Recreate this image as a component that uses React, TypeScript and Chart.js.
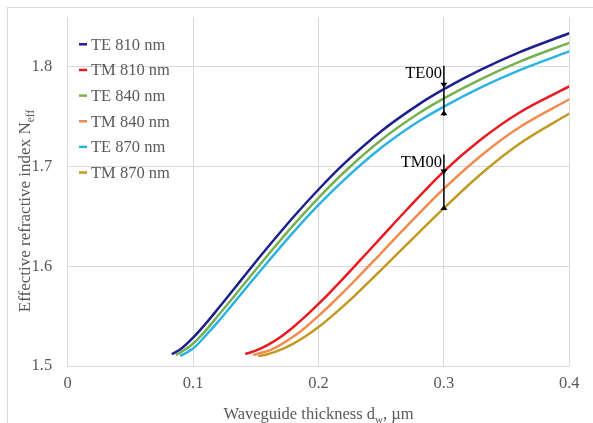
import React, { useEffect, useRef } from "react";
import { Chart, registerables } from "chart.js";

Chart.register(...registerables);

// ---- data ----
const seriesLabels = ["TE 810 nm", "TM 810 nm", "TE 840 nm", "TM 840 nm", "TE 870 nm", "TM 870 nm"];
const seriesColors = ["#1e1f8f", "#e8191f", "#77b04f", "#f28b4e", "#2bb3e6", "#c09a22"];

const te810X = [0.083, 0.09, 0.1, 0.11, 0.12, 0.13, 0.14, 0.15, 0.16, 0.18, 0.2, 0.22, 0.25, 0.28, 0.3, 0.33, 0.36, 0.4];
const te810Y = [1.512, 1.5169, 1.5284, 1.5424, 1.5576, 1.5732, 1.5889, 1.6045, 1.6198, 1.6494, 1.677, 1.7024, 1.7354, 1.7624, 1.7776, 1.7974, 1.8145, 1.8337];

const te840X = [0.0864, 0.09, 0.1, 0.11, 0.12, 0.13, 0.14, 0.15, 0.16, 0.18, 0.2, 0.22, 0.25, 0.28, 0.3, 0.33, 0.36, 0.4];
const te840Y = [1.511, 1.5135, 1.5225, 1.5355, 1.5506, 1.5657, 1.5812, 1.5966, 1.6118, 1.6412, 1.6686, 1.6938, 1.7266, 1.7534, 1.7684, 1.788, 1.805, 1.8241];

const te870X = [0.0896, 0.1, 0.11, 0.12, 0.13, 0.14, 0.15, 0.16, 0.18, 0.2, 0.22, 0.25, 0.28, 0.3, 0.33, 0.36, 0.4];
const te870Y = [1.51, 1.5175, 1.5305, 1.5445, 1.5595, 1.5748, 1.59, 1.605, 1.6342, 1.6615, 1.6862, 1.7188, 1.7454, 1.7602, 1.7797, 1.7965, 1.8155];

const tm810X = [0.1416, 0.15, 0.16, 0.17, 0.18, 0.19, 0.2, 0.21, 0.22, 0.23, 0.25, 0.27, 0.3, 0.33, 0.36, 0.4];
const tm810Y = [1.512, 1.5154, 1.5214, 1.5294, 1.5392, 1.5502, 1.5622, 1.5749, 1.5881, 1.6016, 1.629, 1.6562, 1.6952, 1.7276, 1.754, 1.7804];

const tm840X = [0.148, 0.155, 0.16, 0.17, 0.18, 0.19, 0.2, 0.21, 0.22, 0.23, 0.25, 0.27, 0.3, 0.33, 0.36, 0.4];
const tm840Y = [1.511, 1.5135, 1.5152, 1.5215, 1.5295, 1.5392, 1.5502, 1.5619, 1.5743, 1.587, 1.6133, 1.6397, 1.6778, 1.7114, 1.7392, 1.7675];

const tm870X = [0.152, 0.16, 0.17, 0.18, 0.19, 0.2, 0.21, 0.22, 0.23, 0.25, 0.27, 0.3, 0.33, 0.36, 0.4];
const tm870Y = [1.51, 1.512, 1.5164, 1.5225, 1.5301, 1.539, 1.5493, 1.5603, 1.5719, 1.5964, 1.6214, 1.6583, 1.6931, 1.7227, 1.7532];

const seriesX = [te810X, tm810X, te840X, tm840X, te870X, tm870X];
const seriesY = [te810Y, tm810Y, te840Y, tm840Y, te870Y, tm870Y];

const xTickValues = [0, 0.1, 0.2, 0.3, 0.4];
const xTickLabels = ["0", "0.1", "0.2", "0.3", "0.4"];
const yTickValues = [1.5, 1.6, 1.7, 1.8];
const yTickLabels = ["1.5", "1.6", "1.7", "1.8"];

// mode-split annotations (TE00 / TM00) at d = 0.3
const annLabels = ["TE00", "TM00"];
const annX = [0.3, 0.3];
const annTop = [1.801, 1.712];
const annDownTip = [1.779, 1.692];
const annUpTip = [1.7565, 1.6615];
const annBottom = [1.751, 1.6565];

const FONT = "'Liberation Serif', 'Times New Roman', serif";
const GRAY = "#595959";

const overlayPlugin = {
  id: "overlay",
  afterDatasetsDraw(chart: any) {
    const ctx = chart.ctx;
    const xs = chart.scales.x;
    const ys = chart.scales.y;
    const area = chart.chartArea;
    ctx.save();

    // legend
    ctx.font = `16.5px ${FONT}`;
    ctx.textBaseline = "middle";
    ctx.textAlign = "left";
    seriesLabels.forEach((lab, i) => {
      const cy = 44.3 + i * 25.65;
      ctx.strokeStyle = seriesColors[i];
      ctx.lineWidth = 2.5;
      ctx.beginPath();
      ctx.moveTo(79, cy);
      ctx.lineTo(87, cy);
      ctx.stroke();
      ctx.fillStyle = GRAY;
      ctx.fillText(lab, 91, cy + 1);
    });

    // annotations
    annLabels.forEach((lab, i) => {
      const px = xs.getPixelForValue(annX[i]);
      const yTop = ys.getPixelForValue(annTop[i]);
      const yBot = ys.getPixelForValue(annBottom[i]);
      const yDown = ys.getPixelForValue(annDownTip[i]);
      const yUp = ys.getPixelForValue(annUpTip[i]);
      ctx.strokeStyle = "#000";
      ctx.lineWidth = 1.5;
      ctx.beginPath();
      ctx.moveTo(px, yTop);
      ctx.lineTo(px, yBot);
      ctx.stroke();
      ctx.fillStyle = "#000";
      ctx.beginPath();
      ctx.moveTo(px - 3.5, yDown - 5);
      ctx.lineTo(px + 3.5, yDown - 5);
      ctx.lineTo(px, yDown);
      ctx.closePath();
      ctx.fill();
      ctx.beginPath();
      ctx.moveTo(px - 3.5, yUp + 5);
      ctx.lineTo(px + 3.5, yUp + 5);
      ctx.lineTo(px, yUp);
      ctx.closePath();
      ctx.fill();
      ctx.font = `16.5px ${FONT}`;
      ctx.textAlign = "right";
      ctx.textBaseline = "middle";
      ctx.fillText(lab, px - 2, yTop + 8);
    });

    // x title with subscript
    ctx.fillStyle = GRAY;
    ctx.textBaseline = "alphabetic";
    ctx.textAlign = "left";
    const big = `16.5px ${FONT}`;
    const small = `11px ${FONT}`;
    const xParts: [string, boolean][] = [["Waveguide thickness d", false], ["w", true], [", \u00b5m", false]];
    let total = 0;
    xParts.forEach(([t, s]) => {
      ctx.font = s ? small : big;
      total += ctx.measureText(t).width;
    });
    let cx = (area.left + area.right) / 2 - total / 2;
    const base = 419;
    xParts.forEach(([t, s]) => {
      ctx.font = s ? small : big;
      ctx.fillText(t, cx, s ? base + 4 : base);
      cx += ctx.measureText(t).width;
    });

    // y title rotated with subscript
    const bigY = `17px ${FONT}`;
    const smallY = `11.5px ${FONT}`;
    const yParts: [string, boolean][] = [["Effective refractive index N", false], ["eff", true]];
    total = 0;
    yParts.forEach(([t, s]) => {
      ctx.font = s ? smallY : bigY;
      total += ctx.measureText(t).width;
    });
    ctx.translate(30, 211);
    ctx.rotate(-Math.PI / 2);
    let tx = -total / 2;
    yParts.forEach(([t, s]) => {
      ctx.font = s ? smallY : bigY;
      ctx.fillText(t, tx, s ? 4 : 0);
      tx += ctx.measureText(t).width;
    });
    ctx.restore();
  },
};

export default function App() {
  const ref = useRef<HTMLCanvasElement>(null);
  useEffect(() => {
    document.body.style.margin = "0";
    const canvas = ref.current!;
    const datasets = seriesLabels.map((label, i) => ({
      label,
      data: seriesX[i].map((x, j) => ({ x, y: seriesY[i][j] })),
      borderColor: seriesColors[i],
      backgroundColor: seriesColors[i],
      borderWidth: 2.5,
      pointRadius: 0,
      fill: false,
      showLine: true,
      cubicInterpolationMode: "monotone" as const,
    }));
    const chart = new Chart(canvas, {
      type: "scatter",
      data: { datasets },
      options: {
        animation: false,
        responsive: false,
        devicePixelRatio: 1,
        layout: { padding: { left: 0, top: 17, right: 23.7, bottom: 0 } },
        plugins: { legend: { display: false }, tooltip: { enabled: false } },
        scales: {
          x: {
            type: "linear",
            min: 0,
            max: 0.4,
            afterFit: (s: any) => {
              s.height = 57;
              s.paddingLeft = 0;
              s.paddingRight = 0;
            },
            afterBuildTicks: (s: any) => {
              s.ticks = xTickValues.map((v) => ({ value: v }));
            },
            ticks: {
              padding: 8,
              color: GRAY,
              font: { family: FONT, size: 16.5 },
              callback: (_v: any, i: number) => xTickLabels[i],
              maxRotation: 0,
            },
            grid: { color: "#d9d9d9", lineWidth: 1, drawTicks: false },
            border: { color: "#d9d9d9" },
          },
          y: {
            type: "linear",
            min: 1.5,
            max: 1.85,
            afterFit: (s: any) => {
              s.width = 67.7;
              s.paddingTop = 0;
              s.paddingBottom = 0;
            },
            afterBuildTicks: (s: any) => {
              s.ticks = yTickValues.map((v) => ({ value: v }));
            },
            ticks: {
              padding: 15.5,
              color: GRAY,
              font: { family: FONT, size: 16.5 },
              callback: (_v: any, i: number) => yTickLabels[i],
            },
            grid: { color: "#d9d9d9", lineWidth: 1, drawTicks: false },
            border: { color: "#d9d9d9" },
          },
        },
      },
      plugins: [overlayPlugin],
    });
    return () => chart.destroy();
  }, []);

  return (
    <div style={{ position: "relative", width: 593, height: 423, overflow: "hidden", background: "#fff" }}>
      <div
        style={{
          position: "absolute",
          left: 7,
          top: 7,
          width: 700,
          height: 500,
          border: "1px solid #d9d9d9",
        }}
      />
      <canvas ref={ref} width={593} height={423} style={{ position: "absolute", left: 0, top: 0 }} />
    </div>
  );
}
